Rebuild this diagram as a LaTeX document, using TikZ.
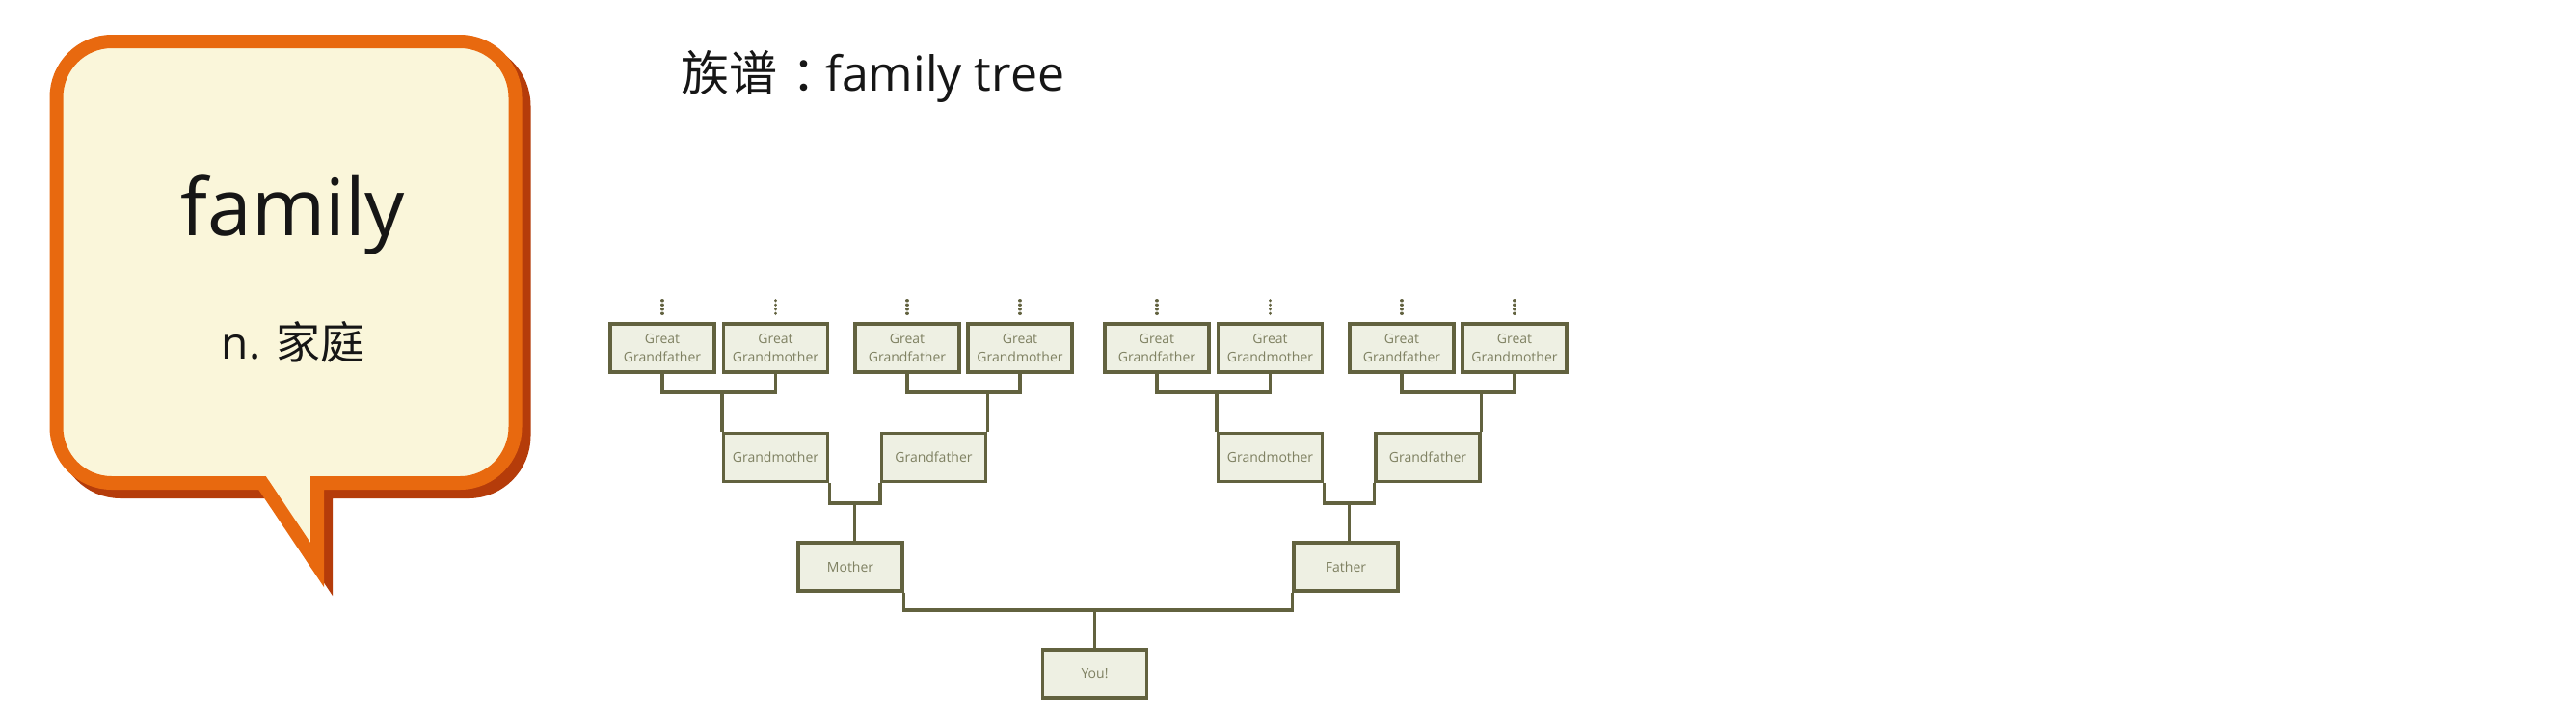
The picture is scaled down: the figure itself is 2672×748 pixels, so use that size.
\documentclass[tikz,border=0pt]{standalone}
\usepackage{fontspec}
\setmainfont{Open Sans}
\newfontfamily\cjk{Noto Sans CJK SC}
\usetikzlibrary{calc}
\definecolor{bubbleorange}{HTML}{E8690F}
\definecolor{bubbleshadow}{HTML}{B53C0A}
\definecolor{bubblefill}{HTML}{FAF6DA}
\definecolor{treeline}{HTML}{62623F}
\definecolor{treefill}{HTML}{EEF0E3}
\definecolor{treetext}{HTML}{7F8162}
\definecolor{inktext}{HTML}{161616}
\tikzset{
  person/.style={draw=treeline, fill=treefill, line width=3.4pt, minimum width=108pt,
    minimum height=50pt, inner sep=0pt, text=treetext, align=center,
    font=\fontsize{14}{19}\selectfont},
  conn/.style={draw=treeline, line width=3.4pt},
  dots/.style={draw=treeline, line width=3.4pt, line cap=round, dash pattern=on 0.1pt off 4.4pt},
}
\begin{document}
\begin{tikzpicture}[x=1pt, y=-1pt]
\useasboundingbox (0,0) rectangle (2672,748);
\fill[white] (0,0) rectangle (2672,748);

% speech bubble shadow
\begin{scope}[shift={(9,9)}]
\draw[bubbleshadow, fill=bubbleshadow, line width=14pt, line join=miter]
  (329,501) -- (329,586) -- (272,501) -- (116,501)
  .. controls (84,501) and (58.5,475) .. (58.5,443)
  -- (58.5,101) .. controls (58.5,69) and (84,43) .. (116,43)
  -- (477,43) .. controls (509,43) and (534.5,69) .. (534.5,101)
  -- (534.5,443) .. controls (534.5,475) and (509,501) .. (477,501) -- cycle;
\end{scope}
% speech bubble
\draw[bubbleorange, fill=bubblefill, line width=14pt, line join=miter]
  (329,501) -- (329,586) -- (272,501) -- (116,501)
  .. controls (84,501) and (58.5,475) .. (58.5,443)
  -- (58.5,101) .. controls (58.5,69) and (84,43) .. (116,43)
  -- (477,43) .. controls (509,43) and (534.5,69) .. (534.5,101)
  -- (534.5,443) .. controls (534.5,475) and (509,501) .. (477,501) -- cycle;

\node[anchor=base, inner sep=0pt, text=inktext, font=\fontsize{82}{90}\selectfont] (word) at (304,244) {family};
\node[anchor=base, inner sep=0pt, text=inktext, font=\fontsize{46}{50}\selectfont] (pos) at (304,372) {n. {\cjk 家庭}};

% title
\node[anchor=base west, inner sep=0pt, text=inktext, font=\fontsize{50}{60}\selectfont] (title) at (706,94) {{\cjk 族谱}\hspace{15pt}{\cjk ：}\hspace{-15pt}family tree};

% family tree
\node[person] (ggf1) at (687,361) {Great\\Grandfather};
\node[person] (ggm1) at (804.5,361) {Great\\Grandmother};
\node[person] (ggf2) at (941,361) {Great\\Grandfather};
\node[person] (ggm2) at (1058,361) {Great\\Grandmother};
\node[person] (ggf3) at (1200,361) {Great\\Grandfather};
\node[person] (ggm3) at (1317.5,361) {Great\\Grandmother};
\node[person] (ggf4) at (1454,361) {Great\\Grandfather};
\node[person] (ggm4) at (1571,361) {Great\\Grandmother};

\node[person] (gm1) at (804.5,474.5) {Grandmother};
\node[person] (gf1) at (968.5,474.5) {Grandfather};
\node[person] (gm2) at (1317.5,474.5) {Grandmother};
\node[person] (gf2) at (1481,474.5) {Grandfather};

\node[person] (mother) at (882,588) {Mother};
\node[person] (father) at (1396,588) {Father};
\node[person] (you) at (1135.5,699) {You!};

\coordinate (yA) at (0,407);
\coordinate (yB) at (0,522);
\coordinate (yC) at (0,633);

\foreach \n in {ggf1,ggm1,ggf2,ggm2,ggf3,ggm3,ggf4,ggm4}{
  \draw[dots] ($(\n.north)+(0,-9)$) -- ++(0,-16);
}

\draw[conn] (ggf1.south) -- (ggf1.south |- yA) -- (ggm1.south |- yA) -- (ggm1.south);
\draw[conn] (gm1.north west) -- (gm1.north west |- yA);
\draw[conn] (ggf2.south) -- (ggf2.south |- yA) -- (ggm2.south |- yA) -- (ggm2.south);
\draw[conn] (gf1.north east) -- (gf1.north east |- yA);
\draw[conn] (ggf3.south) -- (ggf3.south |- yA) -- (ggm3.south |- yA) -- (ggm3.south);
\draw[conn] (gm2.north west) -- (gm2.north west |- yA);
\draw[conn] (ggf4.south) -- (ggf4.south |- yA) -- (ggm4.south |- yA) -- (ggm4.south);
\draw[conn] (gf2.north east) -- (gf2.north east |- yA);

\draw[conn] (gm1.south east) -- (gm1.south east |- yB) -- (gf1.south west |- yB) -- (gf1.south west);
\coordinate (k1) at ($(gm1.south east)!0.5!(gf1.south west)$);
\draw[conn] (k1 |- yB) -- (k1 |- mother.north);
\draw[conn] (gm2.south east) -- (gm2.south east |- yB) -- (gf2.south west |- yB) -- (gf2.south west);
\coordinate (k2) at ($(gm2.south east)!0.5!(gf2.south west)$);
\draw[conn] (k2 |- yB) -- (k2 |- father.north);

\draw[conn] (mother.south east) -- (mother.south east |- yC) -- (father.south west |- yC) -- (father.south west);
\draw[conn] (you.north) -- (you.north |- yC);
\end{tikzpicture}
\end{document}
